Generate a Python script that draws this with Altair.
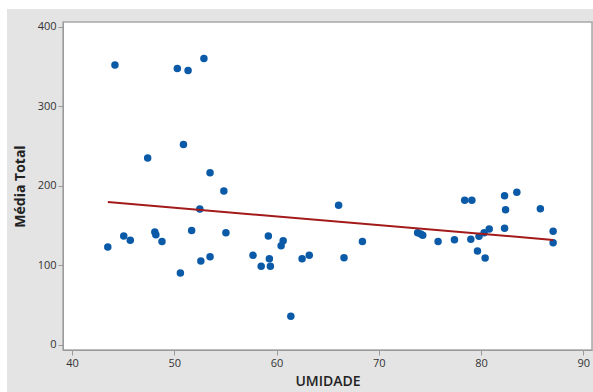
import altair as alt
import pandas as pd

umidade = [43.5, 44.2, 45.06, 45.7, 47.4, 48.1, 48.2, 48.8, 50.3, 50.6,
           50.9, 51.35, 51.7, 52.5, 52.6, 52.9, 53.5, 53.5, 54.85, 55.05,
           57.7, 58.5, 59.2, 59.3, 59.4, 60.45, 60.65, 61.4, 62.5, 63.2,
           66.07, 66.6, 68.4, 73.8, 74.1, 74.3, 75.8, 77.4, 78.4, 79.1,
           79.0, 79.65, 79.8, 80.3, 80.4, 80.8, 82.3, 82.4, 82.3, 83.5,
           85.8, 87.05, 87.05]
media_total = [123, 352, 137, 131.5, 235, 142, 138.5, 130, 347.5, 90.5,
               252, 345, 144, 171, 105.5, 360, 216.5, 111, 193.5, 141,
               112.7, 99, 137, 108.4, 99, 124.8, 131, 36, 108.4, 112.7,
               175.5, 109.7, 130, 141, 139.4, 137.8, 130, 132.3, 182, 182,
               132.8, 118, 136.5, 141, 109.3, 145.7, 187.6, 170, 146.6, 191.8,
               171.2, 142.8, 128.5]

df = pd.DataFrame({"UMIDADE": umidade, "Media": media_total})

W, H = 529, 328
FONT = "Open Sans"

xscale = alt.Scale(domain=[39.12, 90.85], nice=False, zero=False)
yscale = alt.Scale(domain=[-6.3, 405.9], nice=False, zero=False)

xaxis = alt.Axis(title="UMIDADE", values=[40, 50, 60, 70, 80, 90], grid=False,
                 tickSize=5, tickColor="#9a9a9a", domainColor="#9a9a9a",
                 labelFont=FONT, labelFontSize=11, labelColor="#333333", labelPadding=2,
                 titleFont=FONT, titleFontSize=14, titleFontWeight=600, titleColor="#222222",
                 titlePadding=6, zindex=1)
yaxis = alt.Axis(title="Média Total", values=[0, 100, 200, 300, 400], grid=False,
                 tickSize=5, tickColor="#9a9a9a", domainColor="#9a9a9a",
                 labelFont=FONT, labelFontSize=11, labelColor="#333333", labelPadding=2,
                 titleFont=FONT, titleFontSize=14, titleFontWeight="bold", titleColor="#222222",
                 titlePadding=10, zindex=1)

gray_bg = alt.Chart(df).mark_rect(color="#e4e4e4").encode(
    x=alt.value(-56), x2=alt.value(W + 5), y=alt.value(-13), y2=alt.value(H + 50)
).transform_filter(alt.datum.UMIDADE == umidade[0])

white_bg = alt.Chart(df).mark_rect(color="white", stroke="#a8a8a8", strokeWidth=1.5).encode(
    x=alt.value(0), x2=alt.value(W), y=alt.value(0), y2=alt.value(H)
).transform_filter(alt.datum.UMIDADE == umidade[0])

points = alt.Chart(df).mark_circle(size=56, color="#0b5aa8", opacity=1).encode(
    x=alt.X("UMIDADE:Q", scale=xscale, axis=xaxis),
    y=alt.Y("Media:Q", scale=yscale, axis=yaxis),
)

line = alt.Chart(df).mark_line(color="#a31a1a", strokeWidth=2).transform_regression(
    "UMIDADE", "Media"
).encode(
    x=alt.X("UMIDADE:Q", scale=xscale),
    y=alt.Y("Media:Q", scale=yscale),
)

chart = alt.layer(gray_bg, white_bg, points, line).properties(
    width=W, height=H,
    autosize=alt.AutoSizeParams(type="none"),
    padding={"left": 63, "top": 22, "right": 1, "bottom": 42},
    background="white",
).configure_view(stroke=None)

chart.save("out.html", embed_options={"renderer": "svg", "actions": False})
